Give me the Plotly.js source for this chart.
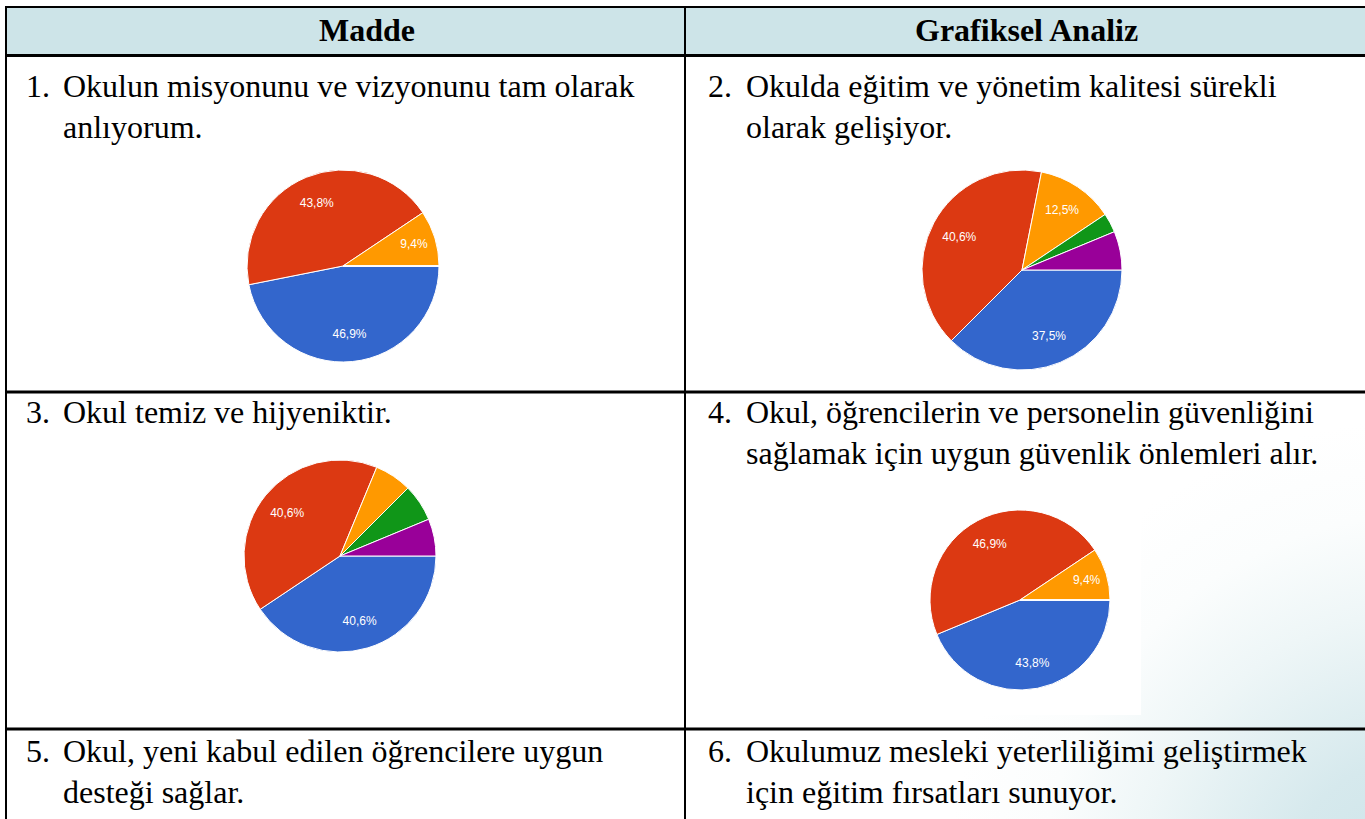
<!DOCTYPE html>
<html>
<head>
<meta charset="utf-8">
<script src="https://cdn.plot.ly/plotly-3.0.1.min.js"></script>
<style>
  html, body { margin: 0; padding: 0; background: #ffffff; }
  #chart { width: 1365px; height: 819px; }
</style>
</head>
<body>
<div id="chart"></div>
<script>
// ---------------- DATA ----------------
const categories = ['Kesinlikle katılıyorum', 'Katılıyorum', 'Kararsızım', 'Katılmıyorum', 'Kesinlikle katılmıyorum'];
const sliceColors = ['#3366cc', '#dc3912', '#ff9900', '#109618', '#990099'];

const headerLabels = ['Madde', 'Grafiksel Analiz'];

const q1Lines = ['Okulun misyonunu ve vizyonunu tam olarak', 'anlıyorum.'];
const q2Lines = ['Okulda eğitim ve yönetim kalitesi sürekli', 'olarak gelişiyor.'];
const q3Lines = ['Okul temiz ve hijyeniktir.'];
const q4Lines = ['Okul, öğrencilerin ve personelin güvenliğini', 'sağlamak için uygun güvenlik önlemleri alır.'];
const q5Lines = ['Okul, yeni kabul edilen öğrencilere uygun', 'desteği sağlar.'];
const q6Lines = ['Okulumuz mesleki yeterliliğimi geliştirmek', 'için eğitim fırsatları sunuyor.'];

// response counts (32 respondents)
const q1Values = [15, 14, 3, 0, 0];
const q2Values = [12, 13, 4, 1, 2];
const q3Values = [13, 13, 2, 2, 2];
const q4Values = [14, 15, 3, 0, 0];

// ---------------- LAYOUT HELPERS ----------------
const W = 1365, H = 819;
const fx = x => x / W;
const fy = y => 1 - y / H;

function pieDomain(cx, cy, r) {
  return { x: [fx(cx - r), fx(cx + r)], y: [fy(cy + r), fy(cy - r)] };
}

// base pie: coloured slices, no text
function pieTrace(values, cx, cy, r) {
  return {
    type: 'pie',
    labels: categories,
    values: values,
    sort: false,
    direction: 'clockwise',
    rotation: 90,
    marker: { colors: sliceColors, line: { color: '#ffffff', width: 1 } },
    textinfo: 'none',
    hoverinfo: 'label+percent',
    showlegend: false,
    domain: pieDomain(cx, cy, r)
  };
}
// label pie: transparent ring on top that carries the percent labels further out
function labelTrace(values, cx, cy, r) {
  const total = values.reduce((a, b) => a + b, 0);
  return {
    type: 'pie',
    labels: categories,
    values: values,
    sort: false,
    direction: 'clockwise',
    rotation: 90,
    hole: 0.42,
    marker: { colors: values.map(() => 'rgba(0,0,0,0)'), line: { width: 0 } },
    texttemplate: '%{percent:.1%}',
    textposition: values.map(v => (v / total >= 0.08 ? 'inside' : 'none')),
    insidetextorientation: 'horizontal',
    insidetextfont: { color: '#ffffff', size: 12, family: 'Liberation Sans' },
    hoverinfo: 'skip',
    showlegend: false,
    domain: pieDomain(cx, cy, r)
  };
}

const pies = [
  [q1Values, 343, 266, 96],
  [q2Values, 1022, 270, 100],
  [q3Values, 340, 556, 96],
  [q4Values, 1020, 600, 90]
];
const traces = pies.map(p => pieTrace(...p)).concat(pies.map(p => labelTrace(...p)));

// ---------------- TEXT ----------------
const serif = 'Liberation Serif';
const fontSize = 32;
const annotations = [];
function addText(txt, x, y, opts) {
  annotations.push(Object.assign({
    text: txt, xref: 'paper', yref: 'paper', x: fx(x), y: fy(y),
    xanchor: 'left', yanchor: 'middle', showarrow: false,
    font: { family: serif, size: fontSize, color: '#000000' }
  }, opts || {}));
}
addText('<b>' + headerLabels[0] + '</b>', 367, 30, { xanchor: 'center' });
addText('<b>' + headerLabels[1] + '</b>', 1026, 30, { xanchor: 'center' });

function addItem(num, lines, xNum, xText, yFirst) {
  addText(num + '.', xNum, yFirst);
  lines.forEach((l, i) => addText(l, xText, yFirst + i * 41));
}
addItem(1, q1Lines, 24, 61, 86);
addItem(2, q2Lines, 706, 744, 86);
addItem(3, q3Lines, 24, 61, 412);
addItem(4, q4Lines, 706, 744, 412);
addItem(5, q5Lines, 24, 61, 751);
addItem(6, q6Lines, 706, 744, 751);

// ---------------- TABLE SHAPES ----------------
const shapes = [];
shapes.push({ type: 'rect', xref: 'paper', yref: 'paper', x0: fx(6), x1: fx(1366), y0: fy(55), y1: fy(7),
  fillcolor: '#cde4e8', line: { width: 0 }, layer: 'below' });
shapes.push({ type: 'rect', xref: 'paper', yref: 'paper', x0: fx(900), x1: fx(1141), y0: fy(715), y1: fy(496),
  fillcolor: '#ffffff', line: { width: 0 }, layer: 'below' });
function hline(y, w) {
  shapes.push({ type: 'line', xref: 'paper', yref: 'paper', x0: fx(5), x1: fx(1366), y0: fy(y), y1: fy(y),
    line: { color: '#000000', width: w }, layer: 'above' });
}
function vline(x, w) {
  shapes.push({ type: 'line', xref: 'paper', yref: 'paper', x0: fx(x), x1: fx(x), y0: fy(6), y1: fy(820),
    line: { color: '#000000', width: w }, layer: 'above' });
}
hline(7, 2);
hline(55.5, 3);
hline(392, 3);
hline(729, 3);
vline(6, 2);
vline(685, 2);

// ---------------- BACKGROUND GRADIENT (slide decoration) ----------------
const cv = document.createElement('canvas');
cv.width = W; cv.height = H;
const ctx = cv.getContext('2d');
ctx.fillStyle = '#ffffff';
ctx.fillRect(0, 0, W, H);
const g = ctx.createRadialGradient(W + 60, H + 80, 0, W + 60, H + 80, 480);
g.addColorStop(0, 'rgb(203,227,232)');
g.addColorStop(0.3, 'rgb(214,233,237)');
g.addColorStop(0.6, 'rgb(238,246,247)');
g.addColorStop(0.8, 'rgb(251,253,253)');
g.addColorStop(1, 'rgb(255,255,255)');
ctx.fillStyle = g;
ctx.fillRect(0, 0, W, H);

const layout = {
  width: W, height: H,
  margin: { l: 0, r: 0, t: 0, b: 0, pad: 0 },
  paper_bgcolor: '#ffffff',
  font: { family: 'Liberation Serif', color: '#000000' },
  separators: ',.',
  showlegend: false,
  annotations: annotations,
  shapes: shapes,
  images: [{ source: cv.toDataURL('image/png'), xref: 'paper', yref: 'paper', x: 0, y: 1,
    sizex: 1, sizey: 1, xanchor: 'left', yanchor: 'top', sizing: 'stretch', layer: 'below' }]
};

Plotly.newPlot('chart', traces, layout, { displayModeBar: false });
</script>
</body>
</html>
